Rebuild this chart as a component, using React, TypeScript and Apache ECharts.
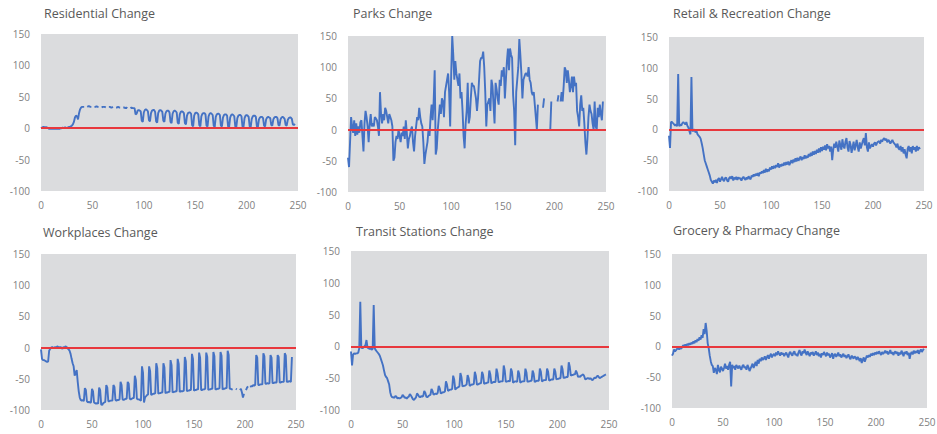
import React, { useEffect, useRef } from "react";
import * as echarts from "echarts";

const titles = [
  "Residential Change",
  "Parks Change",
  "Retail & Recreation Change",
  "Workplaces Change",
  "Transit Stations Change",
  "Grocery & Pharmacy Change",
];

const xMin = 0;
const xMax = 250;
const xStep = 50;
const yMin = -100;
const yMax = 150;
const yStep = 50;

const residential = [
  0, 1, 2, 2, 1, 2, 1, 0, -1, -1,
  -1, -1, -1, 0, -1, -1, -1, 0, -1, 0,
  0, 1, 0, 1, 1, 0, 1, 2, 2, 3,
  4, 6, 10, 17, 20, 19, 14, 24, 30, 33,
  34, 34, 34, null, null, 34, 35, 35, 34, 34,
  null, null, 34, 34, 35, 34, 34, null, null, 33,
  34, 34, 34, 33, null, null, 34, 34, 33, 33,
  34, null, null, 33, 33, 34, 33, 33, null, null,
  33, 33, 32, 33, 32, null, null, 32, 33, 32,
  32, 32, 22, 23, 28, 29, 28, 27, 12, 10,
  25, 29, 30, 29, 27, 13, 11, 24, 28, 29,
  29, 26, 11, 9, 24, 28, 29, 28, 26, 12,
  10, 23, 27, 28, 28, 25, 10, 8, 23, 27,
  28, 27, 25, 9, 7, 22, 26, 27, 26, 24,
  8, 6, 20, 24, 25, 25, 23, 5, 3, 20,
  24, 25, 24, 22, 5, 3, 19, 23, 24, 24,
  22, 4, 3, 19, 23, 24, 23, 21, 4, 2,
  18, 22, 23, 23, 21, 4, 3, 17, 21, 22,
  22, 20, 3, 2, 17, 21, 22, 21, 19, 3,
  2, 16, 20, 21, 21, 19, 3, 2, 16, 20,
  21, 20, 18, 3, 2, 15, 19, 20, 20, 18,
  3, 2, 14, 17, 18, 18, 16, 4, 3, 14,
  17, 18, 17, 16, 5, 4, 14, 17, 18, 18,
  16, 5, 4, 14, 17, 18, 17, 15, 5, 4,
  13, 16, 17, 17, 15, 6, 5, 7,
];

const parks = [
  -45, -60, -20, 20, 5, -5, 15, -10, 10, -8,
  5, -5, 12, 15, -10, -35, 10, 30, 20, 5,
  -20, 10, 25, 5, 10, 5, 20, 18, 15, 5,
  -10, 60, 25, 10, 25, 15, 35, 30, 20, 10,
  25, 20, 15, 5, -50, -45, -20, -10, -15, 0,
  -10, -20, -5, -10, 5, -15, 15, -5, -30, -15,
  -10, 0, 5, -20, -35, -10, 5, 20, 15, 35,
  20, 10, 5, -20, -55, -40, -30, -20, 0, -10,
  20, 40, 15, 45, 95, -40, -30, 0, 20, 40,
  25, 50, 45, 20, 60, 70, 80, 90, 60, 5,
  90, 150, 120, 80, 110, 90, 80, 70, 90, 50,
  60, 30, -10, -30, 10, 30, 75, 10, 20, 50,
  75, 70, 70, 60, 50, 30, 50, 80, 110, 115,
  115, 125, 100, 60, 5, 40, 45, 50, 30, 80,
  70, 40, 10, 75, 65, 50, 40, 80, 70, 95,
  85, 100, 50, 80, 110, 130, 95, 130, 120, 115,
  55, 30, -25, 60, 80, 100, 145, 120, 90, 50,
  80, 85, 90, 90, 85, 100, 80, 75, 60, 55,
  60, 40, 20, 0, 40, null, null, null, null, 35,
  50, null, null, null, null, null, 0, 45, null, null,
  null, null, null, 45, 55, null, 45, 60, 45, 70,
  100, 95, 75, 95, 80, 60, 70, 85, 60, 85,
  70, 75, 30, 20, 5, 40, 55, 30, 35, 10,
  -20, -40, -15, 20, 40, 30, 25, 10, 0, 45,
  5, 0, 35, 20, 40, 25, 15, 45,
];

const retail = [
  -10, -30, 12, 12, 10, 8, 6, 8, 5, 90,
  5, 8, 6, 10, 12, 10, 8, 12, 6, 3,
  -3, -8, 85, -3, -2, 0, -5, -3, -8, -10,
  -12, -15, -22, -30, -40, -50, -55, -60, -65, -70,
  -75, -82, -85, -88, -83, -86, -82, -87, -81, -79,
  -85, -81, -77, -82, -84, -79, -78, -83, -85, -79,
  -77, -80, -76, -83, -78, -81, -77, -82, -78, -80,
  -79, -83, -79, -77, -80, -82, -78, -81, -76, -79,
  -81, -75, -77, -73, -76, -72, -75, -71, -76, -70,
  -72, -68, -71, -66, -70, -64, -69, -65, -68, -62,
  -65, -60, -64, -59, -63, -58, -61, -55, -62, -57,
  -60, -56, -59, -54, -58, -53, -57, -52, -58, -54,
  -50, -55, -49, -53, -47, -52, -46, -51, -47, -44,
  -50, -45, -48, -42, -47, -43, -46, -40, -44, -38,
  -43, -36, -41, -35, -40, -33, -38, -31, -37, -29,
  -35, -28, -33, -26, -34, -24, -31, -27, -36, -28,
  -50, -33, -23, -30, -20, -28, -36, -18, -26, -33,
  -16, -27, -31, -20, -14, -29, -36, -19, -25, -38,
  -29, -20, -34, -26, -17, -29, -36, -21, -31, -25,
  -19, -14, -26, -6, -29, -36, -21, -31, -27, -24,
  -28, -23, -21, -26, -22, -20, -19, -23, -17, -20,
  -16, -14, -18, -15, -21, -17, -19, -23, -20, -17,
  -21, -23, -25, -29, -23, -31, -33, -27, -36, -29,
  -39, -32, -41, -47, -31, -27, -36, -29, -39, -27,
  -33, -29, -36, -27, -34, -29, -32,
];

const workplaces = [
  -3, -18, -20, -20, -21, -22, -23, -22, -5, -2,
  0, 1, -1, 0, 1, 0, 2, 1, 0, 1,
  0, -2, 1, 0, 2, 1, -1, -3, -5, -10,
  -18, -25, -30, -45, -40, -36, -55, -70, -80, -84,
  -85, -84, -86, -65, -68, -86, -88, -87, -88, -88,
  -66, -70, -88, -89, -90, -89, -90, -64, -68, -91,
  -92, -89, -88, -87, -60, -64, -86, -86, -85, -85,
  -85, -60, -63, -84, -85, -84, -84, -83, -55, -60,
  -83, -84, -83, -82, -82, -55, -58, -82, -83, -82,
  -81, -81, -45, -52, -82, -83, -83, -84, -85, -30,
  -40, -88, -80, -78, -76, -75, -30, -38, -76, -75,
  -74, -74, -73, -25, -33, -74, -73, -73, -72, -72,
  -25, -32, -73, -72, -72, -71, -71, -20, -28, -72,
  -71, -71, -70, -70, -18, -26, -71, -70, -70, -70,
  -69, -15, -22, -70, -69, -69, -68, -68, -10, -18,
  -69, -68, -68, -67, -67, -8, -16, -68, -68, -67,
  -67, -66, -8, -15, -68, -67, -67, -66, -66, -7,
  -14, -67, -67, -66, -66, -65, -7, -13, -67, -66,
  -66, -65, -65, -5, -12, -66, -66, -67, -67, null,
  null, -66, -67, null, null, -68, -66, -72, -80, -74,
  null, -68, -64, -62, null, -63, -62, -62, -60, -61,
  -60, -12, -16, -60, -60, -59, -59, -59, -9, -14,
  -58, -58, -57, -58, -57, -12, -16, -57, -57, -56,
  -56, -56, -12, -15, -56, -56, -55, -55, -55, -9,
  -13, -55, -55, -54, -54, -55, -15,
];

const transit = [
  -8, -30, -13, -11, -12, -11, -11, -10, -3, 70,
  -2, -3, -2, 0, 2, 10, -2, -3, -4, -3,
  -5, -4, 65, -3, -6, -8, -10, -12, -15, -20,
  -25, -30, -38, -45, -48, -50, -55, -60, -72, -78,
  -80, -80, -81, -78, -79, -82, -81, -82, -81, -80,
  -76, -78, -81, -80, -82, -80, -79, -75, -77, -80,
  -83, -84, -82, -80, -74, -76, -79, -80, -78, -79,
  -78, -70, -73, -79, -80, -78, -77, -76, -67, -70,
  -76, -75, -74, -75, -73, -62, -66, -74, -73, -72,
  -72, -71, -55, -60, -70, -69, -68, -68, -67, -46,
  -52, -68, -66, -65, -64, -63, -42, -48, -63, -62,
  -62, -61, -60, -45, -50, -62, -61, -60, -60, -59,
  -40, -46, -60, -60, -59, -58, -58, -40, -45, -59,
  -58, -58, -57, -57, -38, -44, -58, -57, -56, -56,
  -56, -35, -42, -56, -56, -55, -55, -55, -30, -38,
  -56, -55, -55, -54, -55, -35, -40, -57, -56, -55,
  -55, -56, -38, -43, -57, -56, -55, -55, -55, -35,
  -41, -56, -55, -55, -54, -54, -38, -43, -56, -55,
  -54, -54, -54, -35, -40, -55, -54, -53, -53, -53,
  -35, -40, -54, -53, -52, -52, -52, -35, -40, -52,
  -51, -51, -50, -50, -30, -36, -50, -49, -49, -48,
  -48, -25, -32, -46, -45, -45, -44, -44, -38, -42,
  -48, -47, -48, -46, -45, -44, -47, -52, -51, -50,
  -50, -51, -50, -52, -53, -51, -49, -50, -48, -46,
  -48, -50, -49, -48, -47, -46, -45, -44,
];

const grocery = [
  -15, -12, -5, -8, -6, -4, -3, -5, -2, -4,
  -1, 2, 0, 3, 1, 4, 2, 5, 3, 6,
  4, 8, 5, 10, 7, 12, 9, 15, 11, 18,
  14, 28, 20, 38, 25, 5, -3, -15, -24, -30,
  -32, -43, -35, -38, -45, -30, -38, -42, -33, -36,
  -40, -35, -28, -36, -32, -38, -30, -25, -65, -30,
  -35, -32, -38, -30, -33, -36, -31, -35, -38, -32,
  -30, -35, -33, -38, -30, -34, -40, -36, -32, -28,
  -35, -30, -25, -32, -22, -28, -20, -24, -18, -22,
  -20, -16, -22, -18, -14, -20, -15, -12, -18, -14,
  -12, -16, -10, -14, -8, -12, -15, -10, -13, -11,
  -16, -12, -10, -14, -18, -11, -9, -13, -15, -10,
  -8, -14, -12, -16, -10, -6, -12, -15, -8, -11,
  -5, -10, -14, -8, -12, -16, -10, -13, -9, -15,
  -12, -8, -14, -10, -16, -12, -18, -11, -14, -9,
  -13, -16, -10, -14, -12, -18, -15, -11, -20, -14,
  -12, -17, -14, -10, -16, -13, -18, -15, -12, -17,
  -14, -19, -16, -13, -18, -21, -15, -17, -20, -16,
  -18, -22, -17, -20, -24, -19, -27, -22, -18, -25,
  -20, -15, -18, -14, -17, -12, -15, -11, -14, -10,
  -13, -9, -12, -8, -11, -14, -9, -12, -10, -7,
  -11, -8, -13, -10, -6, -12, -9, -14, -10, -8,
  -12, -9, -15, -10, -13, -7, -11, -16, -9, -12,
  -8, -14, -10, -20, -12, -9, -13, -7, -11, -8,
  -10, -6, -12, -8, -5, -9, -6, -4,
];

const seriesValues = [residential, parks, retail, workplaces, transit, grocery];

// layout (pixels)
const grids = [
  { left: 41, top: 34, width: 257, height: 157 },
  { left: 348, top: 36, width: 258, height: 156 },
  { left: 669, top: 37, width: 255, height: 154 },
  { left: 41, top: 254, width: 255, height: 156 },
  { left: 351, top: 251, width: 258, height: 159 },
  { left: 672, top: 254, width: 255, height: 154 },
];
const titlePos = [
  { left: 44, top: 7 },
  { left: 353, top: 7 },
  { left: 673, top: 7 },
  { left: 43, top: 226 },
  { left: 356, top: 225 },
  { left: 673, top: 224 },
];

const FONT = "'Open Sans', 'Liberation Sans', sans-serif";

export default function App() {
  const ref = useRef<HTMLDivElement>(null);
  useEffect(() => {
    if (!ref.current) return;
    const chart = echarts.init(ref.current, undefined, { renderer: "svg" });
    const option: any = {
      animation: false,
      backgroundColor: "#ffffff",
      title: titles.map((t, i) => ({
        text: t,
        left: titlePos[i].left,
        top: titlePos[i].top,
        padding: 0,
        textStyle: {
          fontFamily: FONT,
          fontSize: 12.5,
          fontWeight: "normal",
          color: "#595959",
        },
      })),
      grid: grids.map((g) => ({
        ...g,
        containLabel: false,
        outerBoundsMode: "none",
        show: true,
        backgroundColor: "#DBDCDE",
        borderWidth: 0,
      })),
      xAxis: grids.map((_, i) => ({
        type: "value",
        gridIndex: i,
        min: xMin,
        max: xMax,
        interval: xStep,
        axisLine: { show: false },
        axisTick: { show: false },
        splitLine: { show: false },
        axisLabel: {
          color: "#7F7F7F",
          fontFamily: FONT,
          fontSize: 10,
          margin: 9,
          showMinLabel: true,
          showMaxLabel: true,
        },
      })),
      yAxis: grids.map((_, i) => ({
        type: "value",
        gridIndex: i,
        min: yMin,
        max: yMax,
        interval: yStep,
        axisLine: { show: false },
        axisTick: { show: false },
        splitLine: { show: false },
        axisLabel: {
          color: "#7F7F7F",
          fontFamily: FONT,
          fontSize: 10,
          margin: 11,
        },
      })),
      series: seriesValues.map((vals, i) => ({
        type: "line",
        xAxisIndex: i,
        yAxisIndex: i,
        data: vals.map((v, j) => [j, v === null ? "-" : v]),
        symbol: "none",
        showSymbol: false,
        connectNulls: false,
        lineStyle: { color: "#4472C4", width: 1.9 },
        itemStyle: { color: "#4472C4" },
        markLine: {
          silent: true,
          symbol: "none",
          label: { show: false },
          lineStyle: { color: "#E8383D", width: 1.8, type: "solid" },
          data: [{ yAxis: 0 }],
        },
      })),
    };
    chart.setOption(option);
    return () => chart.dispose();
  }, []);
  return (
    <div
      ref={ref}
      style={{ position: "fixed", left: 0, top: 0, width: 937, height: 434, background: "#fff" }}
    />
  );
}
